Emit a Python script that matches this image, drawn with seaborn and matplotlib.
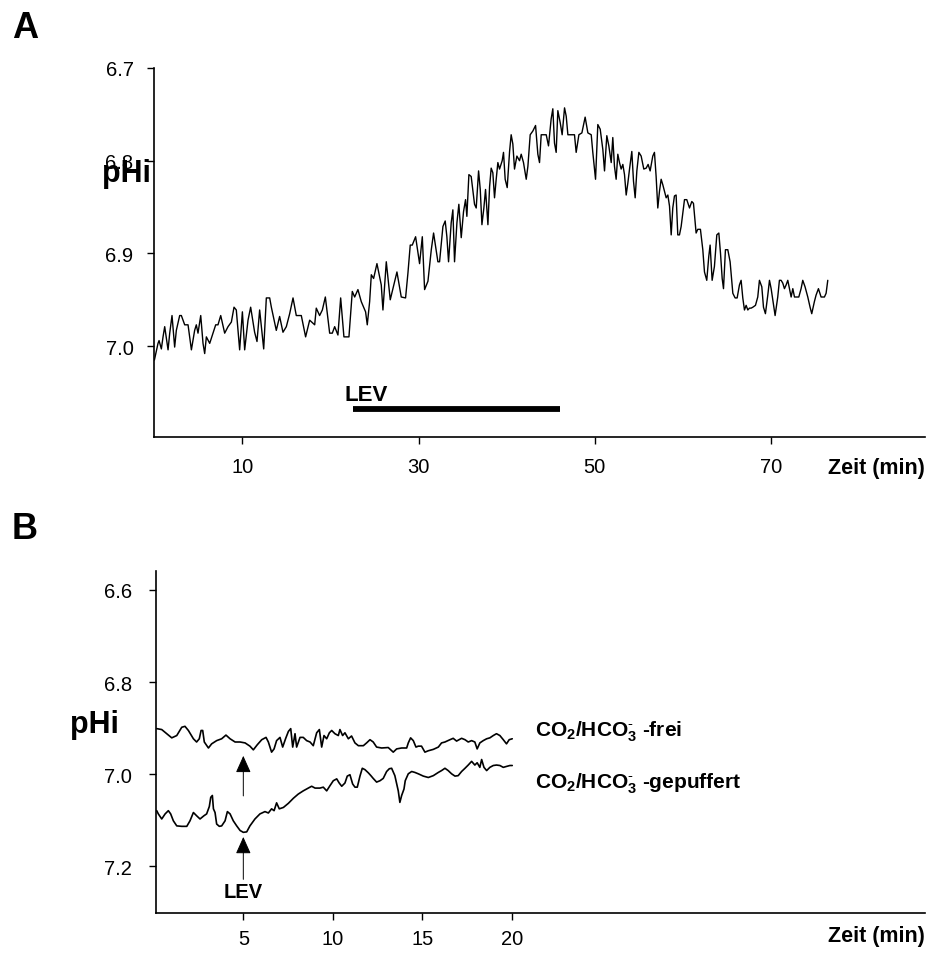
import numpy as np
import pandas as pd
import matplotlib
matplotlib.use("Agg")
import matplotlib.pyplot as plt
import seaborn as sns

# ---------------- data ----------------
# Panel A: pHi trace over time (min)
time_a = [0.00, 0.41, 0.53, 0.79, 0.98, 1.17, 1.55, 1.74, 2.00, 2.30, 2.49, 2.87, 3.06, 3.44, 3.82,
          4.20, 4.57, 4.76, 4.95, 5.26, 5.52, 5.71, 5.90, 6.28, 6.66, 6.96, 7.22, 7.53, 7.98, 8.36,
          8.74, 9.04, 9.30, 9.68, 9.99, 10.25, 10.63, 10.93, 11.38, 11.65, 11.95, 12.41, 12.71, 13.09,
          13.28, 13.84, 14.22, 14.60, 14.98, 15.36, 15.74, 16.11, 16.68, 17.17, 17.63, 18.20, 18.38,
          18.76, 19.07, 19.41, 19.90, 20.20, 20.47, 20.84, 21.15, 21.52, 22.09, 22.47, 22.74, 23.11,
          23.49, 23.98, 24.17, 24.44, 24.63, 24.89, 25.27, 25.76, 25.95, 26.33, 26.78, 27.54, 28.03,
          28.52, 28.79, 29.05, 29.28, 29.66, 30.11, 30.42, 30.68, 31.06, 31.44, 31.70, 32.19, 32.38,
          32.76, 33.02, 33.21, 33.40, 33.70, 33.89, 34.08, 34.35, 34.57, 34.84, 35.10, 35.33, 35.48,
          35.71, 35.97, 36.35, 36.54, 36.81, 37.00, 37.19, 37.41, 37.60, 37.87, 38.06, 38.24, 38.43,
          38.62, 38.81, 39.00, 39.19, 39.49, 39.64, 39.83, 40.06, 40.33, 40.51, 40.70, 40.89, 41.16,
          41.46, 41.65, 41.91, 42.22, 42.41, 42.67, 42.97, 43.28, 43.54, 43.73, 43.92, 44.18, 44.49,
          44.75, 45.05, 45.24, 45.43, 45.62, 45.81, 46.08, 46.30, 46.57, 46.76, 46.95, 47.33, 47.70,
          47.89, 48.20, 48.54, 48.91, 49.22, 49.60, 49.78, 49.97, 50.09, 50.35, 50.62, 50.92, 51.11,
          51.37, 51.60, 51.87, 52.05, 52.24, 52.43, 52.62, 52.81, 53.00, 53.19, 53.38, 53.57, 53.76,
          53.95, 54.21, 54.40, 54.59, 54.78, 55.01, 55.27, 55.57, 55.84, 56.06, 56.29, 56.59, 56.78,
          56.97, 57.16, 57.35, 57.54, 57.73, 57.92, 58.11, 58.30, 58.49, 58.68, 58.86, 59.05, 59.24,
          59.43, 59.62, 59.81, 60.00, 60.19, 60.45, 60.76, 61.02, 61.21, 61.51, 61.70, 62.00, 62.27,
          62.46, 62.72, 62.95, 63.10, 63.33, 63.59, 63.86, 64.09, 64.28, 64.47, 64.62, 64.84, 65.11,
          65.37, 65.68, 65.94, 66.17, 66.43, 66.62, 66.81, 67.00, 67.19, 67.38, 67.57, 67.76, 67.95,
          68.25, 68.51, 68.70, 68.97, 69.16, 69.38, 69.65, 69.84, 70.03, 70.22, 70.48, 70.78, 70.97,
          71.16, 71.35, 71.54, 71.73, 71.92, 72.11, 72.30, 72.49, 72.68, 72.94, 73.17, 73.43, 73.62,
          73.88, 74.19, 74.45, 74.64, 74.94, 75.13, 75.40, 75.70, 76.08, 76.27, 76.46]
phi_a = [7.015, 6.997, 6.994, 7.003, 6.990, 6.979, 7.004, 6.986, 6.967, 7.001, 6.983, 6.967, 6.967,
         6.977, 6.977, 7.004, 6.983, 6.977, 6.986, 6.967, 6.997, 7.008, 6.990, 6.997, 6.986, 6.977,
         6.977, 6.967, 6.986, 6.979, 6.974, 6.958, 6.961, 7.004, 6.963, 7.004, 6.972, 6.958, 6.985,
         6.995, 6.961, 7.003, 6.948, 6.948, 6.958, 6.983, 6.968, 6.985, 6.979, 6.965, 6.948, 6.967,
         6.967, 6.990, 6.972, 6.977, 6.959, 6.967, 6.961, 6.947, 6.986, 6.986, 6.979, 6.988, 6.948,
         6.990, 6.990, 6.941, 6.947, 6.939, 6.952, 6.963, 6.977, 6.952, 6.923, 6.927, 6.911, 6.934,
         6.961, 6.909, 6.950, 6.920, 6.947, 6.948, 6.921, 6.891, 6.891, 6.882, 6.911, 6.882, 6.939,
         6.930, 6.896, 6.878, 6.909, 6.909,
         6.871, 6.865, 6.882, 6.909, 6.867, 6.853, 6.909, 6.867, 6.847, 6.883, 6.855, 6.842, 6.860,
         6.815, 6.817, 6.847, 6.851, 6.811, 6.831, 6.869, 6.851, 6.831, 6.869, 6.828, 6.808, 6.813,
         6.840, 6.820, 6.802, 6.809, 6.800, 6.791, 6.820, 6.829, 6.790, 6.772, 6.782, 6.809, 6.795,
         6.800, 6.793, 6.802, 6.820, 6.806, 6.772, 6.768, 6.762, 6.793, 6.802, 6.772, 6.772, 6.772,
         6.784, 6.755, 6.744, 6.781, 6.791, 6.746, 6.759, 6.772, 6.743, 6.752, 6.772, 6.772, 6.772,
         6.791, 6.772, 6.770, 6.753, 6.770, 6.772, 6.791, 6.809, 6.820, 6.761, 6.766, 6.788, 6.811,
         6.773, 6.784, 6.802, 6.775, 6.806, 6.820, 6.793, 6.802, 6.809, 6.804, 6.815, 6.837, 6.824,
         6.809, 6.790, 6.822, 6.840, 6.811, 6.791, 6.795, 6.809, 6.808, 6.804, 6.811, 6.795, 6.791,
         6.817, 6.851, 6.833, 6.820, 6.826, 6.833, 6.840, 6.837, 6.849, 6.880, 6.851, 6.838, 6.837,
         6.880, 6.880, 6.871, 6.856, 6.842, 6.842, 6.851, 6.844, 6.846, 6.878, 6.874, 6.874, 6.896,
         6.920, 6.929, 6.903, 6.891, 6.929, 6.914, 6.880, 6.878, 6.900, 6.927, 6.938, 6.896, 6.896,
         6.909, 6.943, 6.948, 6.948, 6.934, 6.929, 6.948, 6.961, 6.956, 6.961, 6.959, 6.959, 6.958,
         6.956, 6.947, 6.929, 6.936, 6.958, 6.965, 6.945, 6.929, 6.938, 6.950, 6.967, 6.947, 6.929,
         6.929, 6.932, 6.938, 6.934, 6.929, 6.938, 6.947, 6.938, 6.947, 6.947, 6.947, 6.938, 6.929,
         6.936, 6.947, 6.958, 6.965, 6.952, 6.945, 6.938, 6.947, 6.947, 6.943, 6.929]

# Panel B: CO2/HCO3- free
time_frei = [0.16, 0.44, 0.72, 1.00, 1.28, 1.56, 1.74, 1.93, 2.21, 2.39, 2.54, 2.64, 2.73, 2.82, 3.05,
             3.23, 3.51, 3.79, 4.03, 4.26, 4.54, 4.82, 5.10, 5.37, 5.56, 5.78, 6.03, 6.27, 6.40, 6.58,
             6.72, 6.86, 7.05, 7.20, 7.37, 7.52, 7.65, 7.76, 7.89, 7.98, 8.17, 8.35, 8.54, 8.73, 8.91,
             9.10, 9.25, 9.38, 9.51, 9.66, 9.81, 9.94, 10.12, 10.31, 10.40, 10.55, 10.68, 10.87, 11.05,
             11.24, 11.43, 11.71, 11.89, 12.08, 12.26, 12.45, 12.73, 13.10, 13.38, 13.57, 13.85, 14.13,
             14.22, 14.35, 14.50, 14.65, 14.78, 14.96, 15.15, 15.34, 15.62, 15.90, 16.08, 16.27, 16.55,
             16.73, 16.92, 17.20, 17.39, 17.57, 17.76, 17.94, 18.07, 18.22, 18.41, 18.60, 18.78, 18.97,
             19.15, 19.34, 19.53, 19.71, 19.86, 20.03]
phi_frei = [6.901, 6.903, 6.912, 6.921, 6.916, 6.898, 6.896, 6.905, 6.923, 6.930, 6.923, 6.905, 6.905,
            6.930, 6.943, 6.934, 6.927, 6.923, 6.915, 6.923, 6.930, 6.930, 6.932, 6.939, 6.947, 6.936,
            6.925, 6.920, 6.930, 6.952, 6.945, 6.927, 6.920, 6.941, 6.922, 6.907, 6.901, 6.941, 6.912,
            6.941, 6.920, 6.920, 6.927, 6.930, 6.938, 6.910, 6.903, 6.941, 6.916, 6.923, 6.910, 6.905,
            6.912, 6.916, 6.903, 6.916, 6.910, 6.923, 6.917, 6.932, 6.938, 6.938, 6.932, 6.925, 6.930,
            6.941, 6.943, 6.942, 6.952, 6.945, 6.943, 6.943, 6.932, 6.921, 6.927, 6.941, 6.939, 6.939,
            6.952, 6.949, 6.946, 6.941, 6.932, 6.930, 6.925, 6.922, 6.928, 6.922, 6.925, 6.930, 6.927,
            6.930, 6.945, 6.932, 6.927, 6.923, 6.921, 6.916, 6.912, 6.916, 6.925, 6.934, 6.925, 6.923]

# Panel B: CO2/HCO3- buffered
time_gep = [0.16, 0.25, 0.44, 0.63, 0.81, 0.94, 1.09, 1.28, 1.56, 1.84, 2.02, 2.21, 2.39, 2.58, 2.80,
            2.95, 3.10, 3.18, 3.27, 3.33, 3.42, 3.51, 3.66, 3.79, 3.98, 4.11, 4.26, 4.44, 4.63, 4.82,
            5.00, 5.19, 5.37, 5.65, 5.93, 6.21, 6.40, 6.58, 6.72, 6.86, 7.01, 7.24, 7.52, 7.80, 8.07,
            8.35, 8.63, 8.82, 9.01, 9.28, 9.47, 9.66, 9.84, 10.03, 10.22, 10.36, 10.50, 10.68, 10.81,
            10.96, 11.11, 11.24, 11.37, 11.52, 11.65, 11.80, 11.99, 12.13, 12.26, 12.45, 12.64, 12.82,
            13.01, 13.16, 13.29, 13.47, 13.66, 13.75, 13.85, 13.98, 14.05, 14.22, 14.41, 14.59, 14.78,
            15.06, 15.34, 15.62, 15.90, 16.08, 16.27, 16.45, 16.64, 16.83, 17.01, 17.20, 17.39, 17.57,
            17.76, 17.94, 18.07, 18.22, 18.32, 18.45, 18.60, 18.78, 18.97, 19.15, 19.34, 19.53, 19.71,
            19.90, 20.03]
phi_gep = [7.079, 7.086, 7.097, 7.086, 7.079, 7.086, 7.101, 7.112, 7.113, 7.113, 7.101, 7.083, 7.090,
           7.097, 7.090, 7.086, 7.070, 7.050, 7.046, 7.075, 7.083, 7.108, 7.113, 7.112, 7.101, 7.081,
           7.086, 7.101, 7.112, 7.122, 7.126, 7.125, 7.112, 7.097, 7.086, 7.081, 7.084, 7.075, 7.079,
           7.062, 7.075, 7.072, 7.063, 7.052, 7.043, 7.036, 7.030, 7.026, 7.030, 7.030, 7.028, 7.036,
           7.025, 7.014, 7.010, 7.019, 7.026, 7.019, 7.004, 7.001, 7.021, 7.028, 7.028, 7.004, 6.987,
           6.990, 6.997, 7.003, 7.009, 7.017, 7.014, 7.009, 6.994, 6.988, 6.987, 7.003, 7.036, 7.061,
           7.046, 7.032, 7.014, 6.999, 6.994, 6.996, 6.999, 7.004, 7.007, 7.003, 6.996, 6.992, 6.987,
           6.992, 6.999, 7.004, 7.003, 6.994, 6.987, 6.980, 6.972, 6.980, 6.975, 6.985, 6.968, 6.985,
           6.992, 6.985, 6.981, 6.980, 6.981, 6.985, 6.983, 6.981, 6.981]

yticks_a = [6.7, 6.8, 6.9, 7.0]
xticks_a = [10, 30, 50, 70]
yticks_b = [6.6, 6.8, 7.0, 7.2]
xticks_b = [5, 10, 15, 20]

lev_a_start, lev_a_end = 22.55, 46.05
lev_b_time = 5

# ---------------- style ----------------
sns.set_style("ticks")
plt.rcParams["font.family"] = ["Liberation Sans", "DejaVu Sans"]
plt.rcParams["mathtext.fontset"] = "custom"
plt.rcParams["mathtext.rm"] = "Liberation Sans"
plt.rcParams["mathtext.bf"] = "Liberation Sans:bold"
plt.rcParams["mathtext.it"] = "Liberation Sans:italic"
for key in ["text.color", "axes.labelcolor", "xtick.color", "ytick.color", "axes.edgecolor"]:
    plt.rcParams[key] = "black"

fig = plt.figure(figsize=(9.28, 9.54), dpi=100)
W, H = 928, 954

def axes_px(l, t, r, b):
    return fig.add_axes([l / W, 1 - b / H, (r - l) / W, (b - t) / H])

axA = axes_px(154.4, 69, 925, 438)
axB = axes_px(156, 572, 925, 914)

def style_axis(ax, ypad, xpad):
    for s in ["top", "right"]:
        ax.spines[s].set_visible(False)
    for s in ["left", "bottom"]:
        ax.spines[s].set_linewidth(1.2)
        ax.spines[s].set_color("black")
    ax.tick_params(axis="both", direction="out", length=5, width=1.0,
                   labelsize=14.5, colors="black")
    ax.yaxis.set_tick_params(pad=ypad)
    ax.xaxis.set_tick_params(pad=xpad)
    ax.set_xlabel("")
    ax.set_ylabel("")
    ax.set_facecolor("white")

# Panel A
dfA = pd.DataFrame({"t": time_a, "pHi": phi_a})
sns.lineplot(data=dfA, x="t", y="pHi", ax=axA, color="black", lw=1.0,
             estimator=None, sort=False)
axA.set_xlim(0, 87.5)
axA.set_ylim(7.098, 6.7)
axA.set_yticks(yticks_a)
axA.set_yticklabels([f"{v:.1f}" for v in yticks_a])
axA.set_xticks(xticks_a)
axA.set_xticklabels([str(v) for v in xticks_a])
style_axis(axA, 10, 9.5)
axA.hlines(7.068, lev_a_start, lev_a_end, color="black", lw=4.2, capstyle="butt")
axA.text(21.64, 7.058, "LEV", fontsize=16, fontweight="bold", ha="left", va="baseline")

# Panel B
dfB = pd.concat([
    pd.DataFrame({"t": time_frei, "pHi": phi_frei, "cond": "frei"}),
    pd.DataFrame({"t": time_gep, "pHi": phi_gep, "cond": "gepuffert"}),
])
sns.lineplot(data=dfB, x="t", y="pHi", units="cond", ax=axB, color="black", lw=1.2,
             estimator=None, sort=False)
axB.set_xlim(0.12, 43.1)
axB.set_ylim(7.301, 6.559)
axB.set_yticks(yticks_b)
axB.set_yticklabels([f"{v:.1f}" for v in yticks_b])
axB.set_xticks(xticks_b)
axB.set_xticklabels([str(v) for v in xticks_b])
style_axis(axB, 12.5, 6.5)

arrow_kw = dict(arrowstyle="-|>,head_length=1.05,head_width=0.47", lw=0.7,
                color="black", shrinkA=0, shrinkB=0, mutation_scale=10)
axB.annotate("", xy=(lev_b_time, 6.960), xytext=(lev_b_time, 7.047), arrowprops=arrow_kw)
axB.annotate("", xy=(lev_b_time, 7.136), xytext=(lev_b_time, 7.228), arrowprops=arrow_kw)
axB.text(lev_b_time, 7.266, "LEV", fontsize=14.5, fontweight="bold", ha="center", va="baseline")

axB.text(21.3, 6.916, r"$\mathbf{CO_2/HCO_3^{\text{-}}}$ -frei", fontsize=15,
         fontweight="bold", ha="left", va="baseline")
axB.text(21.3, 7.028, r"$\mathbf{CO_2/HCO_3^{\text{-}}}$ -gepuffert", fontsize=15,
         fontweight="bold", ha="left", va="baseline")

# Figure-level labels
fig.text(12 / W, 1 - 38 / H, "A", fontsize=26, fontweight="bold", ha="left", va="baseline")
fig.text(12 / W, 1 - 539 / H, "B", fontsize=26, fontweight="bold", ha="left", va="baseline")
fig.text(102 / W, 1 - 182 / H, "pHi", fontsize=22, fontweight="bold", ha="left", va="baseline")
fig.text(70 / W, 1 - 733 / H, "pHi", fontsize=22, fontweight="bold", ha="left", va="baseline")
fig.text(925 / W, 1 - 474 / H, "Zeit (min)", fontsize=15.5, fontweight="bold", ha="right", va="baseline")
fig.text(925 / W, 1 - 942 / H, "Zeit (min)", fontsize=15.5, fontweight="bold", ha="right", va="baseline")

fig.savefig("out.png", dpi=100, facecolor="white")
